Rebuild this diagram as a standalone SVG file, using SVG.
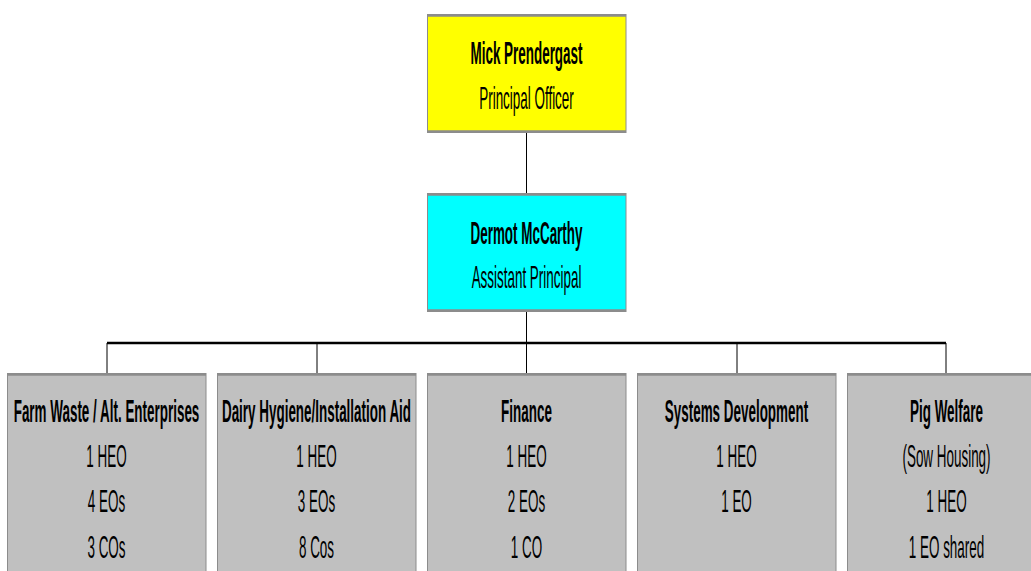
<svg xmlns="http://www.w3.org/2000/svg" width="1031" height="571" viewBox="0 0 1031 571">
  <style>
    .box { stroke: #8c8c8c; stroke-width: 1; }
    .edge { stroke: #8c8c8c; stroke-width: 2.5; fill: none; }
    .yellow { fill: #ffff00; }
    .cyan { fill: #00ffff; }
    .grey { fill: #c0c0c0; }
    .link { stroke: #000; stroke-width: 1; fill: none; }
    .bus { stroke: #000; stroke-width: 2.5; fill: none; }
    text { font-family: "Liberation Sans", Arial, sans-serif; font-size: 32px; fill: #000; text-anchor: middle; }
    .name { font-weight: bold; }
  </style>

  <!-- connectors -->
  <g id="connectors">
    <path class="link" d="M526.5 133 V193"/>
    <path class="link" d="M526.5 312 V373"/>
    <path class="bus" d="M107 343 H946"/>
    <path class="link" d="M107 343 V373"/>
    <path class="link" d="M317 343 V373"/>
    <path class="link" d="M737 343 V373"/>
    <path class="link" d="M946 343 V373"/>
  </g>

  <g id="principal-officer">
    <rect class="box yellow" x="427.5" y="14.5" width="198.5" height="118"/>
    <path class="edge" d="M427 15.5 H626 M427 131.5 H626"/>
    <text class="name" transform="translate(526.5 63.5) scale(0.42 1)">Mick Prendergast</text>
    <text transform="translate(526.5 108.5) scale(0.42 1)">Principal Officer</text>
  </g>

  <g id="assistant-principal">
    <rect class="box cyan" x="427.5" y="193.5" width="198.5" height="118"/>
    <path class="edge" d="M427 194.5 H626 M427 310.5 H626"/>
    <text class="name" transform="translate(526.5 243.5) scale(0.42 1)">Dermot McCarthy</text>
    <text transform="translate(526.5 287.5) scale(0.42 1)">Assistant Principal</text>
  </g>

  <g id="farm-waste">
    <rect class="box grey" x="7.5" y="373.5" width="198.5" height="210"/>
    <path class="edge" d="M7 374.5 H206"/>
    <text class="name" transform="translate(106.5 421.5) scale(0.42 1)">Farm Waste / Alt. Enterprises</text>
    <text transform="translate(106.5 466.5) scale(0.42 1)">1 HEO</text>
    <text transform="translate(106.5 511.5) scale(0.42 1)">4 EOs</text>
    <text transform="translate(106.5 557.5) scale(0.42 1)">3 COs</text>
  </g>

  <g id="dairy-hygiene">
    <rect class="box grey" x="217.5" y="373.5" width="198.5" height="210"/>
    <path class="edge" d="M217 374.5 H416"/>
    <text class="name" transform="translate(316.5 421.5) scale(0.42 1)">Dairy Hygiene/Installation Aid</text>
    <text transform="translate(316.5 466.5) scale(0.42 1)">1 HEO</text>
    <text transform="translate(316.5 511.5) scale(0.42 1)">3 EOs</text>
    <text transform="translate(316.5 557.5) scale(0.42 1)">8 Cos</text>
  </g>

  <g id="finance">
    <rect class="box grey" x="427.5" y="373.5" width="198.5" height="210"/>
    <path class="edge" d="M427 374.5 H626"/>
    <text class="name" transform="translate(526.5 421.5) scale(0.42 1)">Finance</text>
    <text transform="translate(526.5 466.5) scale(0.42 1)">1 HEO</text>
    <text transform="translate(526.5 511.5) scale(0.42 1)">2 EOs</text>
    <text transform="translate(526.5 557.5) scale(0.42 1)">1 CO</text>
  </g>

  <g id="systems-development">
    <rect class="box grey" x="637.5" y="373.5" width="198.5" height="210"/>
    <path class="edge" d="M637 374.5 H836"/>
    <text class="name" transform="translate(736.5 421.5) scale(0.42 1)">Systems Development</text>
    <text transform="translate(736.5 466.5) scale(0.42 1)">1 HEO</text>
    <text transform="translate(736.5 511.5) scale(0.42 1)">1 EO</text>
  </g>

  <g id="pig-welfare">
    <rect class="box grey" x="847.5" y="373.5" width="198.5" height="210"/>
    <path class="edge" d="M847 374.5 H1046"/>
    <text class="name" transform="translate(946.5 421.5) scale(0.42 1)">Pig Welfare</text>
    <text transform="translate(946.5 466.5) scale(0.42 1)">(Sow Housing)</text>
    <text transform="translate(946.5 511.5) scale(0.42 1)">1 HEO</text>
    <text transform="translate(946.5 557.5) scale(0.42 1)">1 EO shared</text>
  </g>
</svg>
